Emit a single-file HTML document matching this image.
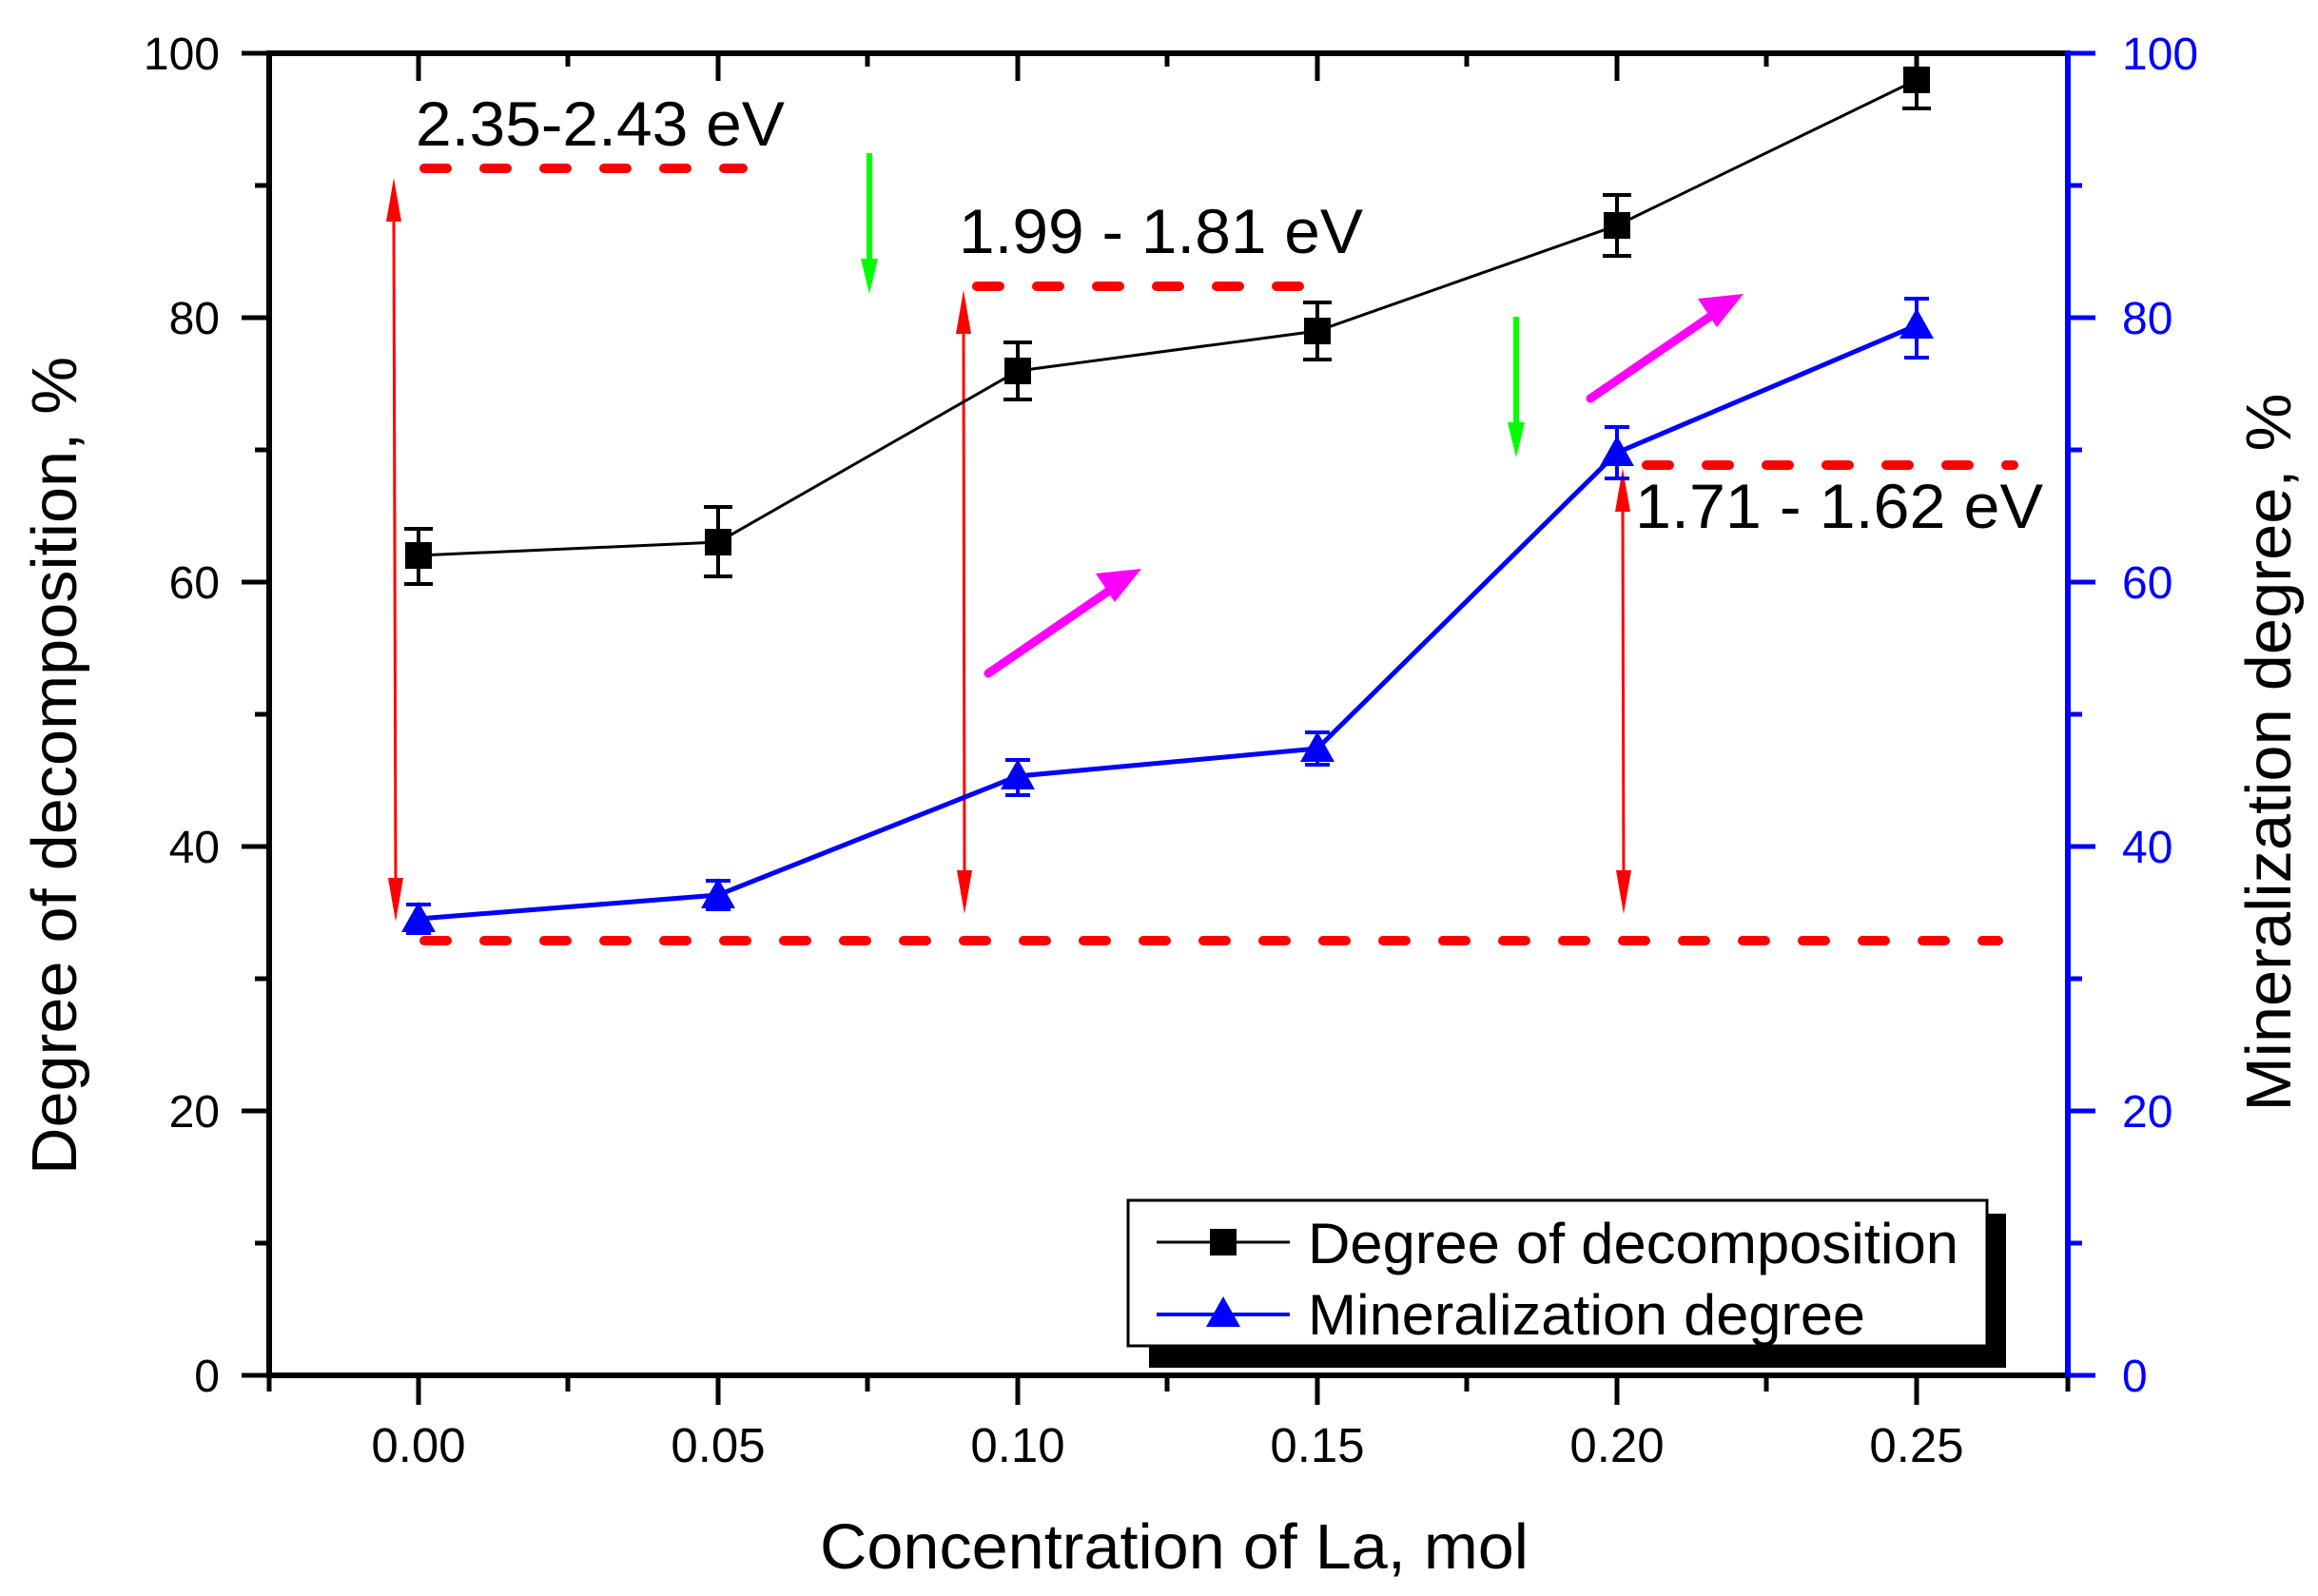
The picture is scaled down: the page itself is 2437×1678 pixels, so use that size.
<!DOCTYPE html>
<html><head><meta charset="utf-8"><style>html,body{margin:0;padding:0;background:#fff}svg{display:block}</style></head>
<body>
<svg width="2437" height="1678" viewBox="0 0 2437 1678" xmlns="http://www.w3.org/2000/svg" font-family="Liberation Sans, sans-serif">
<defs>
<marker id="ar" viewBox="0 0 10 10" refX="9" refY="5" markerWidth="4" markerHeight="9" orient="auto" markerUnits="userSpaceOnUse"></marker>
</defs>
<rect width="2437" height="1678" fill="#fff"/>
<!-- axes -->
<g stroke="#000" stroke-width="6" fill="none">
<line x1="281" y1="56" x2="2174" y2="56"/>
<line x1="281" y1="1446" x2="2174" y2="1446"/>
<line x1="283" y1="53" x2="283" y2="1449"/>
</g>
<line x1="2174" y1="53" x2="2174" y2="1449" stroke="#00f" stroke-width="6"/>
<g stroke="#000" stroke-width="5">
<!-- left ticks -->
<line x1="254" y1="56" x2="283" y2="56"/><line x1="268" y1="195" x2="283" y2="195"/>
<line x1="254" y1="334" x2="283" y2="334"/><line x1="268" y1="473" x2="283" y2="473"/>
<line x1="254" y1="612" x2="283" y2="612"/><line x1="268" y1="751" x2="283" y2="751"/>
<line x1="254" y1="890" x2="283" y2="890"/><line x1="268" y1="1029" x2="283" y2="1029"/>
<line x1="254" y1="1168" x2="283" y2="1168"/><line x1="268" y1="1307" x2="283" y2="1307"/>
<line x1="254" y1="1446" x2="283" y2="1446"/>
<!-- bottom ticks -->
<line x1="283" y1="1446" x2="283" y2="1463"/>
<line x1="440" y1="1446" x2="440" y2="1477"/><line x1="597" y1="1446" x2="597" y2="1463"/>
<line x1="755" y1="1446" x2="755" y2="1477"/><line x1="912" y1="1446" x2="912" y2="1463"/>
<line x1="1070" y1="1446" x2="1070" y2="1477"/><line x1="1227" y1="1446" x2="1227" y2="1463"/>
<line x1="1385" y1="1446" x2="1385" y2="1477"/><line x1="1542" y1="1446" x2="1542" y2="1463"/>
<line x1="1700" y1="1446" x2="1700" y2="1477"/><line x1="1857" y1="1446" x2="1857" y2="1463"/>
<line x1="2015" y1="1446" x2="2015" y2="1477"/><line x1="2174" y1="1446" x2="2174" y2="1463"/>
<!-- top ticks -->
<line x1="440" y1="56" x2="440" y2="85"/><line x1="597" y1="56" x2="597" y2="70"/>
<line x1="755" y1="56" x2="755" y2="85"/><line x1="912" y1="56" x2="912" y2="70"/>
<line x1="1070" y1="56" x2="1070" y2="85"/><line x1="1227" y1="56" x2="1227" y2="70"/>
<line x1="1385" y1="56" x2="1385" y2="85"/><line x1="1542" y1="56" x2="1542" y2="70"/>
<line x1="1700" y1="56" x2="1700" y2="85"/><line x1="1857" y1="56" x2="1857" y2="70"/>
<line x1="2015" y1="56" x2="2015" y2="85"/>
</g>
<g stroke="#00f" stroke-width="5">
<line x1="2174" y1="56" x2="2203" y2="56"/><line x1="2174" y1="195" x2="2189" y2="195"/>
<line x1="2174" y1="334" x2="2203" y2="334"/><line x1="2174" y1="473" x2="2189" y2="473"/>
<line x1="2174" y1="612" x2="2203" y2="612"/><line x1="2174" y1="751" x2="2189" y2="751"/>
<line x1="2174" y1="890" x2="2203" y2="890"/><line x1="2174" y1="1029" x2="2189" y2="1029"/>
<line x1="2174" y1="1168" x2="2203" y2="1168"/><line x1="2174" y1="1307" x2="2189" y2="1307"/>
<line x1="2174" y1="1446" x2="2203" y2="1446"/>
</g>
<!-- tick labels -->
<g font-size="48" text-anchor="end" fill="#000">
<text x="231" y="73">100</text><text x="231" y="351">80</text><text x="231" y="629">60</text>
<text x="231" y="907">40</text><text x="231" y="1185">20</text><text x="231" y="1463">0</text>
</g>
<g font-size="48" fill="#00f">
<text x="2231" y="73">100</text><text x="2231" y="351">80</text><text x="2231" y="629">60</text>
<text x="2231" y="907">40</text><text x="2231" y="1185">20</text><text x="2231" y="1463">0</text>
</g>
<g font-size="51" text-anchor="middle" fill="#000">
<text x="440" y="1537">0.00</text><text x="755" y="1537">0.05</text><text x="1070" y="1537">0.10</text>
<text x="1385" y="1537">0.15</text><text x="1700" y="1537">0.20</text><text x="2015" y="1537">0.25</text>
</g>
<text x="862" y="1649" font-size="67" textLength="745" lengthAdjust="spacingAndGlyphs">Concentration of La, mol</text>
<text transform="translate(80,805) rotate(-90)" font-size="67" text-anchor="middle" textLength="860" lengthAdjust="spacingAndGlyphs">Degree of decomposition, %</text>
<text transform="translate(2408,791) rotate(-90)" font-size="67" text-anchor="middle" textLength="755" lengthAdjust="spacingAndGlyphs">Mineralization degree, %</text>
<!-- red dashed -->
<g stroke="#f00" stroke-width="10" stroke-linecap="round" stroke-dasharray="24 39" fill="none">
<line x1="446" y1="989" x2="2101" y2="989"/>
<line x1="446" y1="177" x2="781" y2="177"/>
<line x1="1027" y1="301" x2="1375" y2="301"/>
<line x1="1731" y1="489" x2="2117" y2="489"/>
</g>
<!-- red double arrows -->
<g stroke="#f00" stroke-width="3"><line x1="414" y1="230" x2="416" y2="930"/><line x1="1013" y1="345" x2="1014" y2="925"/><line x1="1706" y1="530" x2="1707" y2="925"/></g>
<g fill="#f00">
<polygon points="414,187 406,233 422,233"/><polygon points="416,969 408,923 424,923"/>
<polygon points="1013,305 1005,351 1021,351"/><polygon points="1014,961 1006,915 1022,915"/>
<polygon points="1706,492 1698,538 1714,538"/><polygon points="1707,961 1699,915 1715,915"/>
</g>
<!-- green arrows -->
<g stroke="#0f0" stroke-width="6"><line x1="914" y1="161" x2="914" y2="280"/><line x1="1594" y1="333" x2="1594" y2="452"/></g>
<g fill="#0f0"><polygon points="914,309 905,272 923,272"/><polygon points="1594,481 1585,444 1603,444"/></g>
<!-- magenta arrows -->
<g stroke="#f0f" stroke-width="9" stroke-linecap="round"><line x1="1039" y1="708" x2="1172" y2="617"/><line x1="1672" y1="419" x2="1805" y2="328"/></g>
<g fill="#f0f"><polygon points="1200,598 1152,603 1172,633"/><polygon points="1833,309 1785,314 1805,344"/></g>
<!-- black series -->
<polyline fill="none" stroke="#000" stroke-width="3" points="440,584 755,570 1070,390 1385,348 1700,237 2015,84"/>
<g stroke="#000" stroke-width="4">
<line x1="440" y1="556" x2="440" y2="614"/><line x1="425" y1="556" x2="455" y2="556"/><line x1="425" y1="614" x2="455" y2="614"/>
<line x1="755" y1="533" x2="755" y2="606"/><line x1="740" y1="533" x2="770" y2="533"/><line x1="740" y1="606" x2="770" y2="606"/>
<line x1="1070" y1="360" x2="1070" y2="420"/><line x1="1055" y1="360" x2="1085" y2="360"/><line x1="1055" y1="420" x2="1085" y2="420"/>
<line x1="1385" y1="318" x2="1385" y2="378"/><line x1="1370" y1="318" x2="1400" y2="318"/><line x1="1370" y1="378" x2="1400" y2="378"/>
<line x1="1700" y1="205" x2="1700" y2="269"/><line x1="1685" y1="205" x2="1715" y2="205"/><line x1="1685" y1="269" x2="1715" y2="269"/>
<line x1="2015" y1="56" x2="2015" y2="114"/><line x1="2000" y1="56" x2="2030" y2="56"/><line x1="2000" y1="114" x2="2030" y2="114"/>
</g>
<g fill="#000">
<rect x="426" y="570" width="28" height="28"/><rect x="741" y="556" width="28" height="28"/>
<rect x="1056" y="376" width="28" height="28"/><rect x="1371" y="334" width="28" height="28"/>
<rect x="1686" y="223" width="28" height="28"/><rect x="2001" y="70" width="28" height="28"/>
</g>
<!-- blue series -->
<polyline fill="none" stroke="#00f" stroke-width="5" points="440,966 755,941 1070,816 1385,787 1700,476 2015,342"/>
<g stroke="#00f" stroke-width="4">
<line x1="440" y1="951" x2="440" y2="981"/><line x1="427" y1="951" x2="453" y2="951"/><line x1="427" y1="981" x2="453" y2="981"/>
<line x1="755" y1="926" x2="755" y2="956"/><line x1="742" y1="926" x2="768" y2="926"/><line x1="742" y1="956" x2="768" y2="956"/>
<line x1="1070" y1="799" x2="1070" y2="836"/><line x1="1057" y1="799" x2="1083" y2="799"/><line x1="1057" y1="836" x2="1083" y2="836"/>
<line x1="1385" y1="770" x2="1385" y2="804"/><line x1="1372" y1="770" x2="1398" y2="770"/><line x1="1372" y1="804" x2="1398" y2="804"/>
<line x1="1700" y1="449" x2="1700" y2="503"/><line x1="1687" y1="449" x2="1713" y2="449"/><line x1="1687" y1="503" x2="1713" y2="503"/>
<line x1="2015" y1="314" x2="2015" y2="376"/><line x1="2002" y1="314" x2="2028" y2="314"/><line x1="2002" y1="376" x2="2028" y2="376"/>
</g>
<g fill="#00f">
<polygon points="440,948 422,980 458,980"/><polygon points="755,923 737,955 773,955"/>
<polygon points="1070,798 1052,830 1088,830"/><polygon points="1385,769 1367,801 1403,801"/>
<polygon points="1700,458 1682,490 1718,490"/><polygon points="2015,324 1997,356 2033,356"/>
</g>
<!-- labels -->
<g font-size="66" fill="#000">
<text x="437" y="153" textLength="388" lengthAdjust="spacingAndGlyphs">2.35-2.43 eV</text>
<text x="1008" y="266" textLength="425" lengthAdjust="spacingAndGlyphs">1.99 - 1.81 eV</text>
<text x="1719" y="555" textLength="429" lengthAdjust="spacingAndGlyphs">1.71 - 1.62 eV</text>
</g>
<!-- legend -->
<rect x="1208" y="1276" width="901" height="162" fill="#000"/>
<rect x="1186" y="1262" width="903" height="153" fill="#fff" stroke="#000" stroke-width="3"/>
<line x1="1216" y1="1306" x2="1356" y2="1306" stroke="#000" stroke-width="3"/>
<rect x="1272" y="1292" width="28" height="28" fill="#000"/>
<line x1="1216" y1="1382" x2="1356" y2="1382" stroke="#00f" stroke-width="4"/>
<polygon points="1286,1363 1268,1395 1304,1395" fill="#00f"/>
<text x="1375" y="1328" font-size="60" textLength="684" lengthAdjust="spacingAndGlyphs">Degree of decomposition</text>
<text x="1375" y="1403" font-size="60" textLength="586" lengthAdjust="spacingAndGlyphs">Mineralization degree</text>
</svg>
</body></html>
